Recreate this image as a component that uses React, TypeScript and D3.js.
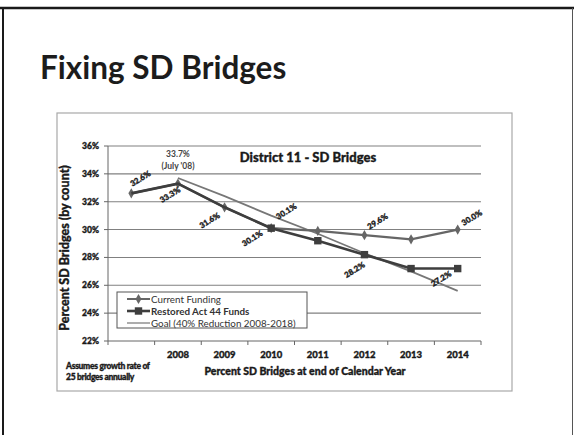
import React from "react";
import * as d3 from "d3";

const years = ["2007", "2008", "2009", "2010", "2011", "2012", "2013", "2014"];
const xTickLabels = ["", "2008", "2009", "2010", "2011", "2012", "2013", "2014"];
const currentFunding = [32.6, 33.3, 31.6, 30.1, 29.9, 29.6, 29.3, 30.0];
const restoredAct44 = [32.6, 33.3, 31.6, 30.1, 29.2, 28.2, 27.2, 27.2];
const goal = [null, 33.7, 32.4, 31.0, 29.7, 28.3, 27.0, 25.6];
const yTicks = [22, 24, 26, 28, 30, 32, 34, 36];
const legendNames = ["Current Funding", "Restored Act 44 Funds", "Goal (40% Reduction 2008-2018)"];

// data label specs: series, index, text, offset
const labelSpecs = [
  { s: "c", i: 0, t: "32.6%", dx: 9, dy: -15 },
  { s: "c", i: 1, t: "33.3%", dx: -8, dy: 11 },
  { s: "c", i: 2, t: "31.6%", dx: -15, dy: 13 },
  { s: "r", i: 3, t: "30.1%", dx: -19, dy: 10 },
  { s: "c", i: 3, t: "30.1%", dx: 15, dy: -17 },
  { s: "c", i: 5, t: "29.6%", dx: 13, dy: -14 },
  { s: "c", i: 7, t: "30.0%", dx: 14, dy: -12 },
  { s: "r", i: 5, t: "28.2%", dx: -10, dy: 15 },
  { s: "r", i: 6, t: "27.2%", dx: 30, dy: 10 },
];

const FONT = "Lato, 'Open Sans', sans-serif";

export default function App() {
  const x = d3.scaleBand<string>().domain(years).range([108, 481]);
  const y = d3.scaleLinear().domain([22, 36]).range([341, 146]);
  const cx = (i: number) => (x(years[i]) as number) + x.bandwidth() / 2;

  const line = d3
    .line<number | null>()
    .defined((d) => d != null)
    .x((_, i) => cx(i))
    .y((d) => y(d as number));

  const diamond = d3.symbol().type(d3.symbolDiamond).size(30)() as string;
  const square = d3.symbol().type(d3.symbolSquare).size(55)() as string;

  const cColor = "#666";
  const rColor = "#3e3e3e";
  const gColor = "#777";
  const heavy = { stroke: "#1a1a1a", strokeWidth: 0.35 };

  return (
    <svg
      width={574}
      height={435}
      style={{ position: "absolute", left: 0, top: 0, background: "#fff" }}
      fontFamily={FONT}
    >
      {/* slide frame */}
      <line x1={0} x2={574} y1={8} y2={8} stroke="#1a1a1a" strokeWidth={2.5} />
      <line x1={3} x2={3} y1={8} y2={435} stroke="#1a1a1a" strokeWidth={2} />
      <line x1={572.5} x2={572.5} y1={8} y2={435} stroke="#555" strokeWidth={1} />

      <text x={40} y={79} fontSize={31.5} fontWeight={700} fill="#1c1c1c" fontFamily={FONT}>
        Fixing SD Bridges
      </text>

      {/* chart frame */}
      <rect x={57} y={113} width={455} height={278} fill="none" stroke="#a8a8a8" strokeWidth={1.2} />

      <text x={308} y={162} textAnchor="middle" fontSize={13} fontWeight={900} fill="#1a1a1a" {...heavy}>
        District 11 - SD Bridges
      </text>

      {/* gridlines */}
      {yTicks.slice(1).map((t) => (
        <line key={t} x1={108} x2={481} y1={y(t)} y2={y(t)} stroke="#808080" strokeWidth={1.1} />
      ))}

      {/* axes */}
      <line x1={108} x2={108} y1={y(36)} y2={y(22)} stroke="#666" strokeWidth={1} />
      <line x1={108} x2={481} y1={y(22)} y2={y(22)} stroke="#666" strokeWidth={1} />
      {yTicks.map((t) => (
        <g key={t}>
          <line x1={104} x2={108} y1={y(t)} y2={y(t)} stroke="#666" />
          <text x={99} y={y(t) + 3} textAnchor="end" fontSize={8.5} fontWeight={900} fill="#1a1a1a" {...heavy}>
            {t}%
          </text>
        </g>
      ))}
      {years.map((yr) => (
        <line key={yr} x1={x(yr) as number} x2={x(yr) as number} y1={y(22)} y2={y(22) + 4} stroke="#666" />
      ))}
      <line x1={481} x2={481} y1={y(22)} y2={y(22) + 4} stroke="#666" />
      {xTickLabels.map((lab, i) => (
        <text key={i} x={cx(i)} y={358} textAnchor="middle" fontSize={9.5} fontWeight={900} fill="#1a1a1a" {...heavy}>
          {lab}
        </text>
      ))}

      <text
        transform={`translate(69,248) rotate(-90)`}
        textAnchor="middle"
        fontSize={12.5}
        fontWeight={900}
        fill="#1a1a1a"
        {...heavy}
      >
        Percent SD Bridges (by count)
      </text>
      <text x={305} y={375} textAnchor="middle" fontSize={10.5} fontWeight={900} fill="#1a1a1a" {...heavy}>
        Percent SD Bridges at end of Calendar Year
      </text>
      <text x={66} y={369} fontSize={8.5} fontWeight={900} fill="#1a1a1a" letterSpacing={-0.3} {...heavy}>
        Assumes growth rate of
      </text>
      <text x={66} y={380} fontSize={8.5} fontWeight={900} fill="#1a1a1a" letterSpacing={-0.3} {...heavy}>
        25 bridges annually
      </text>

      {/* series */}
      <path d={line(goal) as string} fill="none" stroke={gColor} strokeWidth={1.7} />
      <path d={line(currentFunding) as string} fill="none" stroke={cColor} strokeWidth={2.2} />
      {currentFunding.map((v, i) => (
        <path key={i} d={diamond} transform={`translate(${cx(i)},${y(v)})`} fill={cColor} />
      ))}
      <path d={line(restoredAct44) as string} fill="none" stroke={rColor} strokeWidth={2.6} />
      {restoredAct44.map((v, i) =>
        i >= 3 ? <path key={i} d={square} transform={`translate(${cx(i)},${y(v)})`} fill={rColor} /> : null
      )}

      {/* annotation */}
      <text x={cx(1)} y={157} textAnchor="middle" fontSize={8.5} fontWeight={700} fill="#444">
        33.7%
      </text>
      <text x={cx(1)} y={169} textAnchor="middle" fontSize={8.5} fontWeight={700} fill="#444">
        (July '08)
      </text>

      {/* data labels */}
      {labelSpecs.map((l, k) => {
        const v = l.s === "c" ? currentFunding[l.i] : restoredAct44[l.i];
        const px = cx(l.i) + l.dx;
        const py = y(v) + l.dy;
        return (
          <text
            key={k}
            transform={`translate(${px},${py}) rotate(-32)`}
            textAnchor="middle"
            dy={3}
            fontSize={8}
            fontWeight={900}
            fill="#1a1a1a"
            {...heavy}
          >
            {l.t}
          </text>
        );
      })}

      {/* legend */}
      <rect x={117} y={292} width={190} height={36} fill="#fff" stroke="#555" strokeWidth={1} />
      {legendNames.map((n, i) => {
        const ly = 299 + i * 12;
        const col = i === 0 ? cColor : i === 1 ? rColor : gColor;
        return (
          <g key={n}>
            <line x1={127} x2={150} y1={ly} y2={ly} stroke={col} strokeWidth={i === 1 ? 2.6 : i === 0 ? 2 : 1.2} />
            {i === 0 && <path d={diamond} transform={`translate(138.5,${ly})`} fill={cColor} />}
            {i === 1 && <path d={square} transform={`translate(138.5,${ly})`} fill={rColor} />}
            <text x={151} y={ly + 3.5} fontSize={9.8} fill="#333" fontWeight={i === 1 ? 700 : 400}>
              {n}
            </text>
          </g>
        );
      })}
    </svg>
  );
}
